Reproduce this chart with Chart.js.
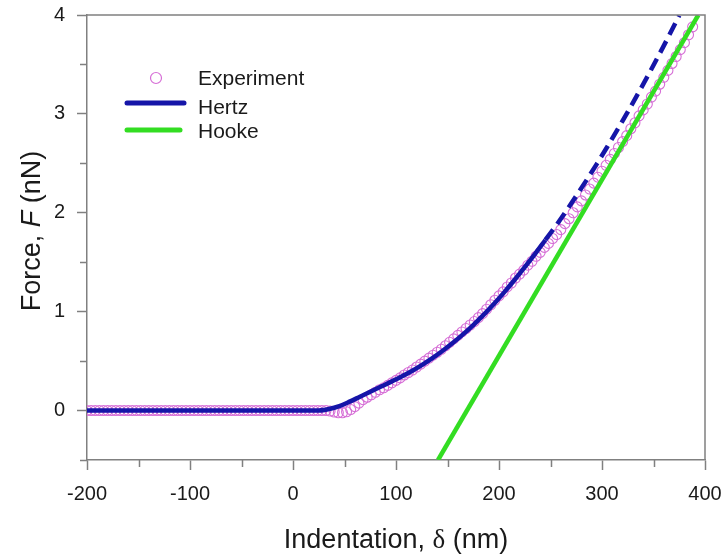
<!DOCTYPE html>
<html><head><meta charset="utf-8">
<script src="https://cdn.jsdelivr.net/npm/chart.js@4/dist/chart.umd.min.js"></script>
<style>html,body{margin:0;padding:0;background:#fff}#wrap{width:722px;height:557px}</style>
</head><body><div id="wrap"><canvas id="c" width="722" height="557"></canvas></div>
<script>
// ---- data ----
const expX = [-200,-196,-192,-188,-184,-180,-176,-172,-168,-164,-160,-156,-152,-148,-144,-140,-136,-132,-128,-124,-120,-116,-112,-108,-104,-100,-96,-92,-88,-84,-80,-76,-72,-68,-64,-60,-56,-52,-48,-44,-40,-36,-32,-28,-24,-20,-16,-12,-8,-4,0,4,8,12,16,20,24,28,32,
  36,40,44,48,52,56,60,64,68,72,76,80,84,88,92,96,100,104,108,112,116,120,124,128,132,136,140,144,148,152,156,160,164,168,172,176,180,184,188,192,196,200,204,208,212,216,220,224,228,232,236,240,244,248,252,256,260,264,268,272,276,280,284,288,292,296,300,304,308,312,316,320,324,328,332,336,340,344,348,352,356,360,364,368,372,376,380,384,388];
const expF = [0,0,0,0,0,0,0,0,0,0,0,0,0,0,0,0,0,0,0,0,0,0,0,0,0,0,0,0,0,0,0,0,0,0,0,0,0,0,0,0,0,0,0,0,0,0,0,0,0,0,0,0,0,0,0,0,0,0,0,
  -0.005,-0.015,-0.022,-0.022,-0.012,0.01,0.04,0.075,0.11,0.135,0.16,0.185,0.21,0.23,0.255,0.28,0.305,0.33,0.36,0.385,0.41,0.44,0.47,0.50,0.53,0.56,0.59,0.62,0.655,0.69,0.725,0.76,0.795,0.83,0.865,0.90,0.94,0.98,1.025,1.07,1.115,1.16,1.20,1.25,1.29,1.34,1.38,1.42,1.47,1.51,1.56,1.60,1.65,1.69,1.74,1.78,1.83,1.89,1.94,2.00,2.06,2.12,2.18,2.24,2.30,2.36,2.42,2.48,2.54,2.60,2.66,2.72,2.78,2.85,2.91,2.98,3.04,3.10,3.17,3.23,3.30,3.37,3.44,3.51,3.58,3.65,3.72,3.80,3.88];
const hertzX = [-200,25,35,45,55,65,75,85,95,105,115,125,135,145,155,165,175,185,195,205,215,225,235,245,255,265,275,285,295,305,315,325,335,345,355,365,375];
const hertzF = [0,0,0.015,0.045,0.09,0.14,0.19,0.24,0.29,0.342,0.398,0.46,0.527,0.602,0.682,0.77,0.865,0.967,1.077,1.195,1.32,1.45,1.585,1.725,1.865,2.015,2.17,2.33,2.495,2.665,2.84,3.02,3.205,3.395,3.59,3.79,3.995];
const hertzFitEnd = 245; // beyond this the Hertz curve is an extrapolation (dashed)
const hookeX = [140.8, 393.5];
const hookeF = [-0.5, 4.0];
const xTicks = [-200,-100,0,100,200,300,400];
const xMinor = [-150,-50,50,150,250,350];
const yTicks = [0,1,2,3,4];
const yMinor = [-0.5,0.5,1.5,2.5,3.5];
const seriesNames = ['Experiment','Hertz','Hooke'];

const PINK = '#d66ed6', BLUE = '#1515a8', GREEN = '#33dd22', AXIS = '#808080', TXT = '#1a1a1a';
const FONT = '"Liberation Sans", Arial, sans-serif';

const pts = (xs, ys) => xs.map((x, i) => ({x, y: ys[i]}));

const decor = {
  id: 'decor',
  afterDraw(chart) {
    const {ctx, chartArea: a, scales: {x, y}} = chart;
    ctx.save();
    ctx.strokeStyle = AXIS; ctx.lineWidth = 1.5;
    ctx.beginPath();
    ctx.moveTo(a.left, a.top); ctx.lineTo(a.right, a.top); ctx.lineTo(a.right, a.bottom);
    ctx.stroke();
    ctx.beginPath();
    xMinor.forEach(v => { const p = Math.round(x.getPixelForValue(v)) + 0.5; ctx.moveTo(p, a.bottom); ctx.lineTo(p, a.bottom + 7); });
    yMinor.forEach(v => { const p = Math.round(y.getPixelForValue(v)) + 0.5; ctx.moveTo(a.left - 7, p); ctx.lineTo(a.left, p); });
    ctx.stroke();
    // legend
    ctx.fillStyle = TXT; ctx.font = '21px ' + FONT; ctx.textBaseline = 'alphabetic'; ctx.textAlign = 'left';
    ctx.strokeStyle = PINK; ctx.lineWidth = 1.2;
    ctx.beginPath(); ctx.arc(156, 78, 5.5, 0, Math.PI * 2); ctx.stroke();
    ctx.fillText(seriesNames[0], 198, 85);
    ctx.strokeStyle = BLUE; ctx.lineWidth = 5; ctx.lineCap = 'round';
    ctx.beginPath(); ctx.moveTo(127, 103); ctx.lineTo(184, 103); ctx.stroke();
    ctx.fillText(seriesNames[1], 198, 114);
    ctx.strokeStyle = GREEN;
    ctx.beginPath(); ctx.moveTo(127, 130); ctx.lineTo(180, 130); ctx.stroke();
    ctx.fillText(seriesNames[2], 198, 138);
    // axis titles (mixed fonts)
    const parts = (arr) => arr.map(([t, f]) => { ctx.font = f; return {t, f, w: ctx.measureText(t).width}; });
    const sans = '27px ' + FONT, ital = 'italic 27px ' + FONT, serif = '27px "Liberation Serif", "DejaVu Serif", serif';
    const xt = parts([['Indentation, ', sans], ['\u03b4', serif], [' (nm)', sans]]);
    let tw = xt.reduce((s, p) => s + p.w, 0);
    let cx = (a.left + a.right) / 2 - tw / 2;
    xt.forEach(p => { ctx.font = p.f; ctx.fillText(p.t, cx, 548); cx += p.w; });
    const yt = parts([['Force, ', sans], ['F', ital], [' (nN)', sans]]);
    tw = yt.reduce((s, p) => s + p.w, 0);
    ctx.translate(40, 231); ctx.rotate(-Math.PI / 2);
    cx = -tw / 2;
    yt.forEach(p => { ctx.font = p.f; ctx.fillText(p.t, cx, 0); cx += p.w; });
    ctx.restore();
  }
};

new Chart(document.getElementById('c'), {
  type: 'scatter',
  data: {
    datasets: [
      { label: seriesNames[2], data: pts(hookeX, hookeF), showLine: true, borderColor: GREEN, borderWidth: 4.5,
        pointRadius: 0, order: 0 },
      { label: seriesNames[1], data: pts(hertzX, hertzF), showLine: true, borderColor: BLUE, borderWidth: 4.5,
        pointRadius: 0, cubicInterpolationMode: 'monotone', order: 1,
        segment: { borderDash: c => c.p0.parsed.x >= hertzFitEnd ? [13, 7] : undefined } },
      { label: seriesNames[0], data: pts(expX, expF), showLine: false, pointStyle: 'circle', pointRadius: 5,
        borderColor: PINK, borderWidth: 1.1, backgroundColor: 'rgba(0,0,0,0)', order: 2 }
    ]
  },
  options: {
    responsive: false, animation: false, devicePixelRatio: 1,
    layout: { padding: { left: 0, top: 15, right: 17, bottom: 0 } },
    plugins: { legend: { display: false }, tooltip: { enabled: false } },
    scales: {
      x: {
        type: 'linear', min: -200, max: 400,
        afterBuildTicks: s => { s.ticks = xTicks.map(v => ({value: v})); },
        afterFit: s => { s.height = 97; s.paddingLeft = 0; s.paddingRight = 0; },
        grid: { drawOnChartArea: false, drawTicks: true, tickLength: 10, tickColor: AXIS, tickWidth: 1.5 },
        border: { display: true, color: AXIS, width: 1.5 },
        ticks: { color: TXT, font: { family: FONT, size: 20 }, padding: 12, maxRotation: 0, autoSkip: false }
      },
      y: {
        type: 'linear', min: -0.5, max: 4,
        afterBuildTicks: s => { s.ticks = yTicks.map(v => ({value: v})); },
        afterFit: s => { s.width = 87; s.paddingTop = 0; s.paddingBottom = 0; },
        grid: { drawOnChartArea: false, drawTicks: true, tickLength: 10, tickColor: AXIS, tickWidth: 1.5 },
        border: { display: true, color: AXIS, width: 1.5 },
        ticks: { color: TXT, font: { family: FONT, size: 20 }, padding: 12, autoSkip: false }
      }
    }
  },
  plugins: [decor]
});
</script></body></html>
